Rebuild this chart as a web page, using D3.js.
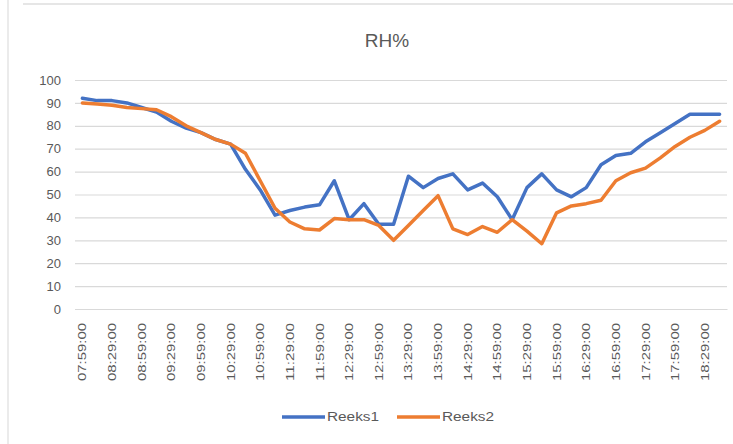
<!DOCTYPE html>
<html><head><meta charset="utf-8">
<script src="https://cdn.jsdelivr.net/npm/d3@7"></script>
<style>html,body{margin:0;padding:0;background:#fff;}svg{display:block;}</style>
</head><body>
<svg id="chart" width="733" height="444"></svg>
<script>
const title = "RH%";
const categories = ["07:59:00","08:14:00","08:29:00","08:44:00","08:59:00","09:14:00","09:29:00","09:44:00","09:59:00","10:14:00","10:29:00","10:44:00","10:59:00","11:14:00","11:29:00","11:44:00","11:59:00","12:14:00","12:29:00","12:44:00","12:59:00","13:14:00","13:29:00","13:44:00","13:59:00","14:14:00","14:29:00","14:44:00","14:59:00","15:14:00","15:29:00","15:44:00","15:59:00","16:14:00","16:29:00","16:44:00","16:59:00","17:14:00","17:29:00","17:44:00","17:59:00","18:14:00","18:29:00","18:44:00"];
const reeks1 = [92,91,91,90,88,86,82,79,77,74,72,61,52,41,43,44.5,45.5,56,39,46,37,37,58,53,57,59,52,55,49,39,53,59,52,49,53,63,67,68,73,77,81,85,85,85];
const reeks2 = [90,89.5,89,88,87.5,87,84,80,77,74,72,68,56,44,38,35,34.5,39.5,39,39,36.5,30,36.5,43,49.5,35,32.5,36,33.5,39,34,28.5,42,45,46,47.5,56,59.5,61.5,66,71,75,78,82];
const seriesNames = ["Reeks1","Reeks2"];
const colors = ["#4472C4","#ED7D31"];
const yTicks = [0,10,20,30,40,50,60,70,80,90,100];

const svg = d3.select("#chart");
const pL = 75, pR = 727, pT = 80, pB = 309;

// faint chart-area border (top and left)
svg.append("line").attr("x1",8).attr("x2",8).attr("y1",0).attr("y2",444)
  .attr("stroke","#dedede").attr("stroke-width",1.2);
svg.append("line").attr("x1",23).attr("x2",733).attr("y1",4).attr("y2",4)
  .attr("stroke","#dedede").attr("stroke-width",1.5);

const x = d3.scaleBand().domain(categories).range([pL,pR]).padding(0);
const y = d3.scaleLinear().domain([0,100]).range([pB,pT]);
const cx = d => x(d) + x.bandwidth()/2;

// gridlines + y labels
const yAxis = d3.axisLeft(y).tickValues(yTicks).tickSize(-(pR-pL)).tickPadding(14);
const gy = svg.append("g").attr("transform",`translate(${pL},0)`).call(yAxis);
gy.select(".domain").remove();
gy.selectAll(".tick line").attr("stroke","#d9d9d9").attr("stroke-width",1.2);
gy.selectAll(".tick text").attr("fill","#595959").attr("font-family","Liberation Sans, Arial, sans-serif").attr("font-size",13);

// x axis
const xAxis = d3.axisBottom(x).tickValues(categories.filter((c,i)=>i%2===0)).tickSize(0).tickPadding(0);
const gx = svg.append("g").attr("transform",`translate(0,${pB})`).call(xAxis);
gx.select(".domain").attr("stroke","#d9d9d9").attr("stroke-width",1.2);
gx.selectAll(".tick text")
  .attr("fill","#595959").attr("font-family","Liberation Sans, Arial, sans-serif").attr("font-size",11.5)
  .attr("text-anchor","start").attr("dy","0.35em")
  .attr("x",0).attr("y",0)
  .attr("transform","translate(0,72) rotate(-90)")
  .attr("textLength",58).attr("lengthAdjust","spacingAndGlyphs");

// lines
const line = d3.line().x((d,i)=>cx(categories[i])).y(d=>y(d));
[reeks1,reeks2].forEach((s,k)=>{
  svg.append("path").datum(s).attr("d",line).attr("fill","none")
    .attr("stroke",colors[k]).attr("stroke-width",3.5)
    .attr("stroke-linejoin","round").attr("stroke-linecap","round");
});

// title
svg.append("text").attr("x",387).attr("y",47).attr("text-anchor","middle")
  .attr("fill","#595959").attr("font-family","Liberation Sans, Arial, sans-serif").attr("font-size",19)
  .text(title);

// legend
const legX = [282,397];
seriesNames.forEach((n,k)=>{
  const g = svg.append("g").attr("transform",`translate(${legX[k]},417)`);
  g.append("line").attr("x1",0).attr("x2",43).attr("y1",0).attr("y2",0)
    .attr("stroke",colors[k]).attr("stroke-width",3.5);
  g.append("text").attr("x",45).attr("y",0).attr("dy","0.35em")
    .attr("fill","#595959").attr("font-family","Liberation Sans, Arial, sans-serif").attr("font-size",12)
    .attr("textLength",52).attr("lengthAdjust","spacingAndGlyphs").text(n);
});
</script>
</body></html>
